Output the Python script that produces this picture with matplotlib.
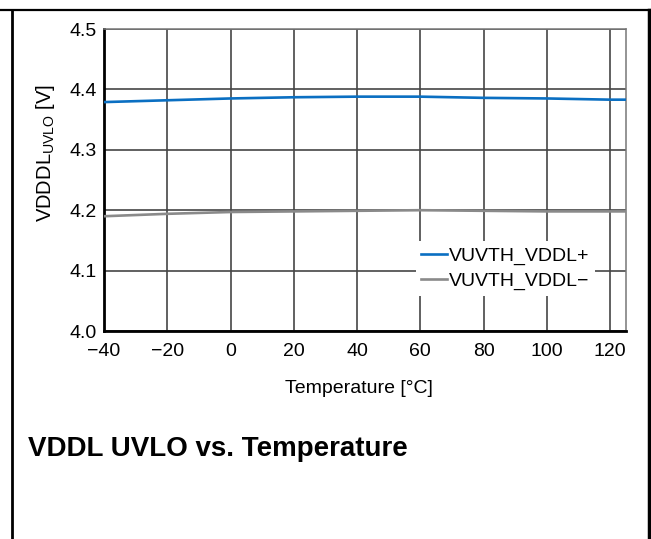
import matplotlib.pyplot as plt
from matplotlib.lines import Line2D

plt.rcParams["font.family"] = ["Liberation Sans", "DejaVu Sans"]

# UVLO thresholds vs temperature
temp_c = [-40, -20, 0, 20, 40, 60, 80, 100, 120, 125]
uvlo_rise = [4.379, 4.382, 4.385, 4.387, 4.388, 4.388, 4.386, 4.385, 4.383, 4.383]
uvlo_fall = [4.190, 4.194, 4.197, 4.198, 4.199, 4.200, 4.199, 4.198, 4.198, 4.198]

x_ticks = [-40, -20, 0, 20, 40, 60, 80, 100, 120]
y_ticks = [4.0, 4.1, 4.2, 4.3, 4.4, 4.5]

W, H = 651, 539
fig = plt.figure(figsize=(W / 100, H / 100), dpi=100)
ax = fig.add_axes([104 / W, 1 - 331 / H, 522 / W, 302 / H])

ax.plot(temp_c, uvlo_rise, color="#0a6fc2", lw=1.9, label="VUVTH_VDDL+", zorder=3)
ax.plot(temp_c, uvlo_fall, color="#8a8a8a", lw=1.9, label="VUVTH_VDDL\u2212", zorder=3)

ax.set_xlim(-40, 125)
ax.set_ylim(4.0, 4.5)
ax.set_xticks(x_ticks)
ax.set_yticks(y_ticks)
ax.set_yticklabels([f"{v:.1f}" for v in y_ticks])
ax.tick_params(axis="x", length=0, pad=8.5, labelsize=14)
ax.tick_params(axis="y", length=0, pad=5, labelsize=14)
ax.grid(True, color="#454545", lw=1.2)
ax.set_axisbelow(True)

for side in ("top", "right"):
    ax.spines[side].set_color("#777777")
    ax.spines[side].set_linewidth(1.1)
for side in ("left", "bottom"):
    ax.spines[side].set_color("black")
    ax.spines[side].set_linewidth(2)

ax.set_xlabel("Temperature [\u00b0C]", fontsize=14, va="baseline")
ax.xaxis.set_label_coords((359 - 104) / 522, (331 - 393) / 302)
ax.set_ylabel("VDDDL$_{\\mathregular{UVLO}}$ [V]", fontsize=14.5, va="center")
ax.yaxis.set_label_coords((45 - 104) / 522, (331 - 153) / 302)

leg = ax.legend(loc="lower right", bbox_to_anchor=((595 - 104) / 522, (331 - 296) / 302),
                frameon=True, fontsize=14, handlelength=1.3, handletextpad=0.1,
                borderpad=0.3, labelspacing=0.4, borderaxespad=0, fancybox=False)
leg.get_frame().set_edgecolor("none")
leg.get_frame().set_facecolor("white")
leg.get_frame().set_alpha(1)

fig.text(28 / W, 1 - 456 / H, "VDDL UVLO vs. Temperature", fontsize=20,
         fontweight="bold", va="baseline", ha="left")

# cell border around the figure
fig.add_artist(Line2D([0, 1], [1 - 9.5 / H] * 2, color="black", lw=1.6))
fig.add_artist(Line2D([12 / W] * 2, [0, 1 - 9.5 / H], color="black", lw=2))
fig.add_artist(Line2D([649 / W] * 2, [0, 1 - 9.5 / H], color="black", lw=2.5))

fig.savefig("out.png", dpi=100)
